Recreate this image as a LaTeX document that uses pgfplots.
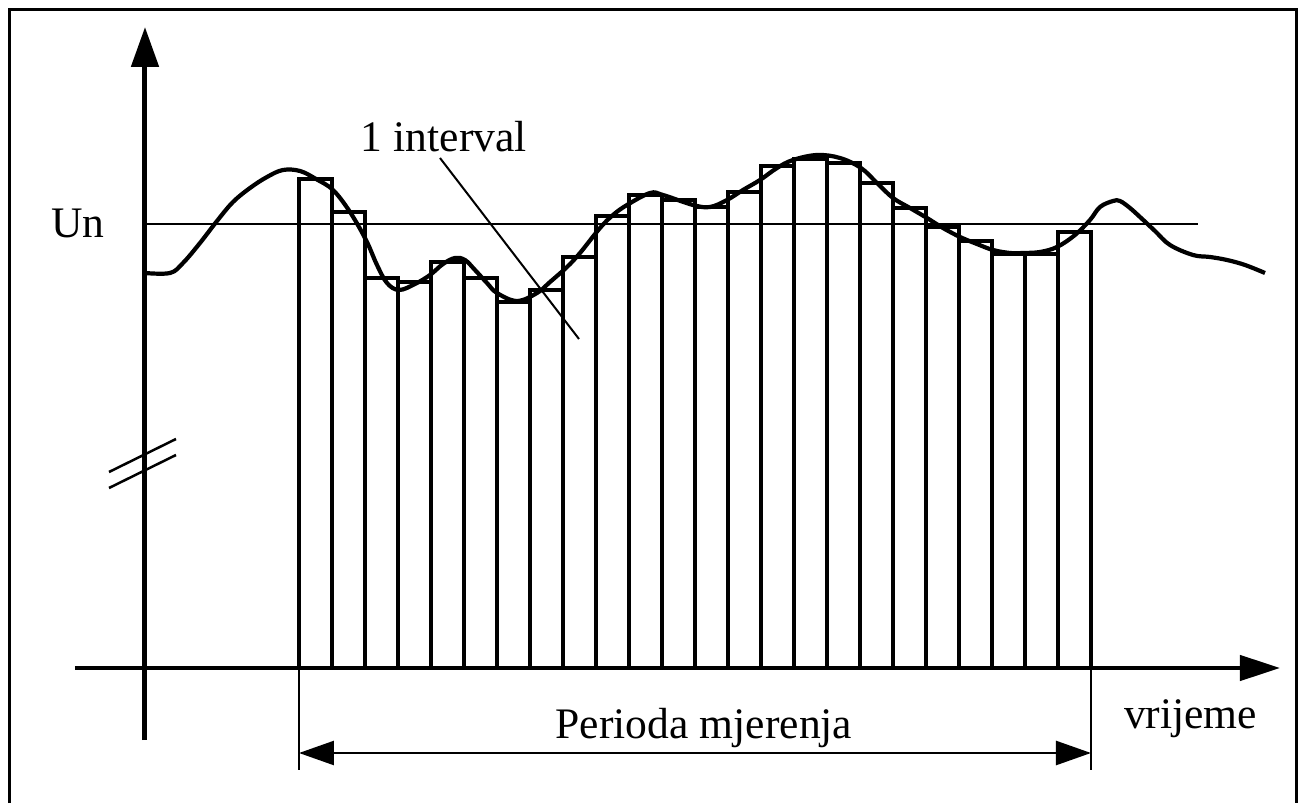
\documentclass[border=0pt]{standalone}
\usepackage{pgfplots}
\pgfplotsset{compat=1.18}
\usepackage{fontspec}
\setmainfont{Liberation Serif}
\usetikzlibrary{arrows.meta}
\tikzset{lbl/.style={font=\fontsize{12.4}{14}\selectfont, inner sep=0pt, outer sep=0pt}}
\begin{document}
\begin{tikzpicture}
\begin{axis}[
  scale only axis, width=129.8mm, height=79.9mm,
  xmin=-145, xmax=1153, ymin=-131, ymax=668,
  hide axis, clip=false,
]
% bounding box
\path (axis cs:-145,-131) rectangle (axis cs:1153,668);
% frame
\draw[line width=0.3mm] (axis cs:-135,-135) -- (axis cs:-135,658) -- (axis cs:1151.5,658) -- (axis cs:1151.5,-135);
% bars (heights above the time axis)
\addplot[ybar interval, draw=black, fill=white, line width=0.35mm] coordinates {
(154,489) (187,456) (220,390) (253,386) (286,406) (319,390) (352,366) (385,378)
(418,411) (451,452) (484,473) (517,468) (550,461) (583,476) (616,502) (649,509)
(682,505) (715,485) (748,460) (781,441) (814,427) (847,414) (880,414) (913,436)
(946,436)};
% nominal line
\addplot[black, line width=0.2mm] coordinates {(0,444) (1053,444)};
% voltage curve
\addplot[black, line width=0.42mm, smooth, tension=0.6] coordinates {
(0,395) (25,395) (38,405) (55,425) (72,447) (88,466) (105,480) (122,491) (138,498)
(155,497) (171,489) (188,478) (205,456) (221,428) (232,403) (242,385) (254,378)
(270,384) (285,393) (298,404) (310,410) (320,408) (330,398) (342,385) (352,375)
(372,367) (392,375) (405,386) (422,401) (435,415) (455,440) (468,453) (482,463)
(505,475) (518,473) (548,463) (565,461) (582,468) (598,478) (615,488) (632,500)
(648,508) (672,513) (695,510) (716,500) (732,485) (748,470) (765,460) (782,450)
(798,440) (815,431) (832,424) (848,418) (865,415) (878,415) (895,416) (912,421)
(930,433) (945,448) (955,461) (968,467) (975,467) (985,460) (995,451) (1010,437)
(1025,423) (1048,413) (1065,411) (1082,408) (1100,403) (1120,395)};
% axes
\draw[line width=0.5mm, -{Triangle[length=4mm, width=2.7mm]}] (axis cs:0,-72) -- (axis cs:0,641);
\draw[line width=0.45mm, -{Triangle[length=4mm, width=2.5mm]}] (axis cs:-70,0) -- (axis cs:1135,0);
% axis break
\draw[line width=0.25mm] (axis cs:-36,196) -- (axis cs:31,229);
\draw[line width=0.25mm] (axis cs:-36,180) -- (axis cs:31,213);
% measurement period
\draw[line width=0.15mm] (axis cs:154,0) -- (axis cs:154,-102);
\draw[line width=0.15mm] (axis cs:946,0) -- (axis cs:946,-102);
\draw[line width=0.25mm, {Triangle[length=3.5mm, width=2.4mm]}-{Triangle[length=3.5mm, width=2.4mm]}] (axis cs:154,-85) -- (axis cs:946,-85);
% pointer
\draw[line width=0.2mm] (axis cs:295,510) -- (axis cs:434,329);
% texts
\node[lbl, anchor=base west] at (axis cs:216,516) {1 interval};
\node[lbl, anchor=base west] at (axis cs:-94,430) {Un};
\node[lbl, anchor=base] at (axis cs:559,-70) {Perioda mjerenja};
\node[lbl, anchor=base west] at (axis cs:979,-60) {vrijeme};
\end{axis}
\end{tikzpicture}
\end{document}
